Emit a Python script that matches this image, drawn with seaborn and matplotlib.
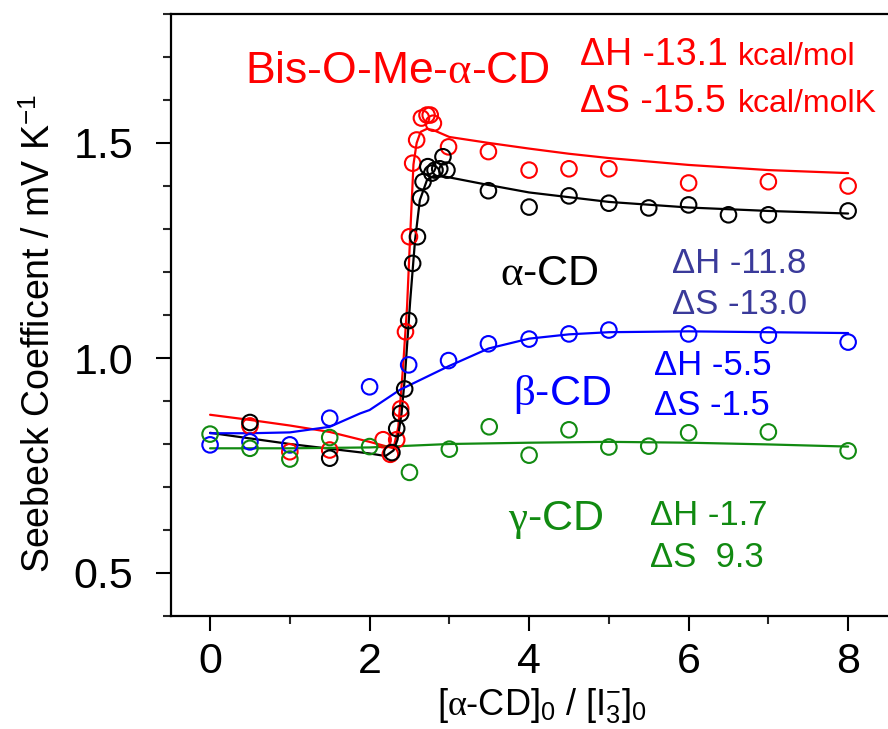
import matplotlib
matplotlib.use("Agg")
import matplotlib.pyplot as plt
import seaborn as sns
import numpy as np

# ---------------- data ----------------
# Bis-O-Me-alpha-CD (red)
x_red = [0.5, 1.0, 1.5, 2.17, 2.26, 2.34, 2.39, 2.45, 2.50, 2.54, 2.59, 2.65,
         2.72, 2.76, 2.80, 2.99, 3.49, 4.0, 4.5, 5.0, 6.0, 7.0, 8.0]
y_red = [0.842, 0.782, 0.786, 0.81, 0.776, 0.81, 0.882, 1.061, 1.282, 1.453, 1.507, 1.558,
         1.565, 1.565, 1.546, 1.491, 1.48, 1.437, 1.44, 1.44, 1.407, 1.41, 1.40]
x_red_fit = [0.0, 0.5, 1.0, 1.5, 2.0, 2.2, 2.3, 2.36, 2.42, 2.47, 2.51, 2.55, 2.59, 2.64,
             2.72, 2.8, 3.0, 3.5, 4.0, 4.5, 5.0, 6.0, 7.0, 8.0]
y_red_fit = [0.868, 0.856, 0.843, 0.828, 0.805, 0.795, 0.79, 0.84, 0.98, 1.12, 1.29, 1.45,
             1.50, 1.526, 1.533, 1.53, 1.514, 1.50, 1.487, 1.475, 1.465, 1.449, 1.437, 1.43]

# alpha-CD (black)
x_blk = [0.5, 1.5, 2.28, 2.34, 2.39, 2.44, 2.49, 2.54, 2.60, 2.64, 2.67, 2.73, 2.78,
         2.82, 2.88, 2.92, 2.97, 3.49, 4.0, 4.5, 5.0, 5.5, 6.0, 6.5, 7.0, 8.0]
y_blk = [0.85, 0.767, 0.78, 0.836, 0.871, 0.928, 1.087, 1.22, 1.282, 1.372, 1.41, 1.445, 1.43,
         1.437, 1.44, 1.468, 1.437, 1.389, 1.351, 1.377, 1.36, 1.349, 1.356, 1.333, 1.333, 1.342]
x_blk_fit = [0.0, 1.0, 2.0, 2.2, 2.3, 2.35, 2.4, 2.44, 2.51, 2.57, 2.63, 2.72, 2.8, 2.9,
             3.0, 3.5, 4.0, 5.0, 6.0, 7.0, 8.0]
y_blk_fit = [0.826, 0.80, 0.778, 0.772, 0.785, 0.81, 0.87, 0.95, 1.135, 1.274, 1.367, 1.414,
             1.423, 1.423, 1.42, 1.402, 1.385, 1.363, 1.35, 1.342, 1.336]

# beta-CD (blue)
x_blu = [0.0, 0.5, 1.0, 1.5, 2.0, 2.49, 2.99, 3.49, 4.0, 4.5, 5.0, 6.0, 7.0, 8.0]
y_blu = [0.798, 0.805, 0.798, 0.86, 0.933, 0.984, 0.994, 1.033, 1.044, 1.056, 1.065, 1.056, 1.053, 1.037]
x_blu_fit = [0.0, 0.5, 1.0, 1.5, 1.88, 2.0, 2.38, 2.98, 3.49, 4.0, 4.5, 5.0, 6.0, 7.0, 8.0]
y_blu_fit = [0.825, 0.825, 0.827, 0.84, 0.871, 0.879, 0.926, 0.98, 1.022, 1.045, 1.055, 1.06,
             1.062, 1.06, 1.058]

# gamma-CD (green)
x_grn = [0.0, 0.5, 1.0, 1.5, 2.0, 2.5, 3.0, 3.5, 4.0, 4.5, 5.0, 5.5, 6.0, 7.0, 8.0]
y_grn = [0.823, 0.79, 0.765, 0.815, 0.794, 0.734, 0.788, 0.84, 0.774, 0.833, 0.793, 0.795,
         0.826, 0.828, 0.784]
x_grn_fit = [0.0, 1.0, 2.0, 3.0, 4.0, 5.0, 6.0, 7.0, 8.0]
y_grn_fit = [0.79, 0.79, 0.792, 0.80, 0.803, 0.805, 0.803, 0.799, 0.794]

x_major_ticks = [0, 2, 4, 6, 8]
y_major_ticks = [0.5, 1.0, 1.5]

RED = "#ff0000"
BLK = "#000000"
BLU = "#0000ff"
GRN = "#118a11"
DBLU = "#3a3a9a"

# ---------------- style ----------------
sns.set_theme(style="ticks")
plt.rcParams["font.family"] = ["Liberation Sans", "DejaVu Sans"]
plt.rcParams["mathtext.fontset"] = "custom"
plt.rcParams["mathtext.rm"] = "Liberation Sans"
plt.rcParams["mathtext.it"] = "Liberation Serif"
plt.rcParams["mathtext.bf"] = "Liberation Sans:bold"
plt.rcParams["axes.unicode_minus"] = False

fig = plt.figure(figsize=(8.88, 7.29), dpi=100)
ax = fig.add_axes([171 / 888, 113 / 729, 717 / 888, 602 / 729])

series = [
    (x_red, y_red, x_red_fit, y_red_fit, RED),
    (x_blk, y_blk, x_blk_fit, y_blk_fit, BLK),
    (x_blu, y_blu, x_blu_fit, y_blu_fit, BLU),
    (x_grn, y_grn, x_grn_fit, y_grn_fit, GRN),
]
for xs, ys, xf, yf, c in series:
    sns.lineplot(x=xf, y=yf, ax=ax, color=c, linewidth=1.6, sort=False,
                 estimator=None, legend=False)
for xs, ys, xf, yf, c in series:
    sns.scatterplot(x=xs, y=ys, ax=ax, marker="o", s=125, facecolors="none",
                    edgecolor=c, linewidth=1.5, legend=False, zorder=3)

ax.set_xlim(-0.49, 8.5)
ax.set_ylim(0.4, 1.8)
ax.set_xticks(x_major_ticks)
ax.set_xticks([1, 3, 5, 7], minor=True)
ax.set_yticks(y_major_ticks)
ax.set_yticks([0.4, 0.6, 0.7, 0.8, 0.9, 1.1, 1.2, 1.3, 1.4, 1.6, 1.7, 1.8], minor=True)
ax.set_xticklabels([str(v) for v in x_major_ticks])
ax.set_yticklabels(["%.1f" % v for v in y_major_ticks])

for s in ["left", "bottom", "top"]:
    ax.spines[s].set_linewidth(1.6)
    ax.spines[s].set_color("black")
ax.spines["right"].set_visible(False)
ax.tick_params(axis="both", which="major", direction="out", length=11, width=1.5,
               labelsize=31, colors="black")
ax.tick_params(axis="both", which="minor", direction="out", length=6, width=1.5)
ax.tick_params(axis="x", which="major", pad=8)
ax.tick_params(axis="y", which="major", pad=16)
ax.tick_params(top=False, right=False, which="both")

ax.set_xlabel(r"[$\alpha$-CD]$_\mathrm{0}$ / [I$_\mathrm{3}^\mathrm{-}$]$_\mathrm{0}$",
              fontsize=26, color="black")
ax.set_ylabel(r"Seebeck Coefficent / mV K$^\mathrm{-1}$", fontsize=27, color="black")
ax.xaxis.set_label_coords(0.517, -0.117)
ax.yaxis.set_label_coords(-0.158, 0.47)

# ---------------- annotations ----------------
def T(x, y, s, c, fs):
    ax.text(x, y, s, color=c, fontsize=fs, ha="left", va="baseline")

T(0.44, 1.64, r"Bis-O-Me-$\alpha$-CD", RED, 32)
T(4.64, 1.681, "ΔH -13.1", RED, 27)
T(6.62, 1.681, "kcal/mol", RED, 23)
T(4.64, 1.572, "ΔS -15.5", RED, 27)
T(6.62, 1.572, "kcal/molK", RED, 23)

T(3.64, 1.17, r"$\alpha$-CD", BLK, 31)
T(5.79, 1.197, "ΔH -11.8", DBLU, 25)
T(5.79, 1.102, "ΔS -13.0", DBLU, 25)

T(3.80, 0.891, r"$\beta$-CD", BLU, 31)
T(5.56, 0.96, "ΔH -5.5", BLU, 25)
T(5.56, 0.867, "ΔS -1.5", BLU, 25)

T(3.74, 0.60, r"$\gamma$-CD", GRN, 31)
T(5.52, 0.612, "ΔH -1.7", GRN, 25)
T(5.52, 0.515, "ΔS  9.3", GRN, 25)

fig.savefig("out.png", dpi=100)
